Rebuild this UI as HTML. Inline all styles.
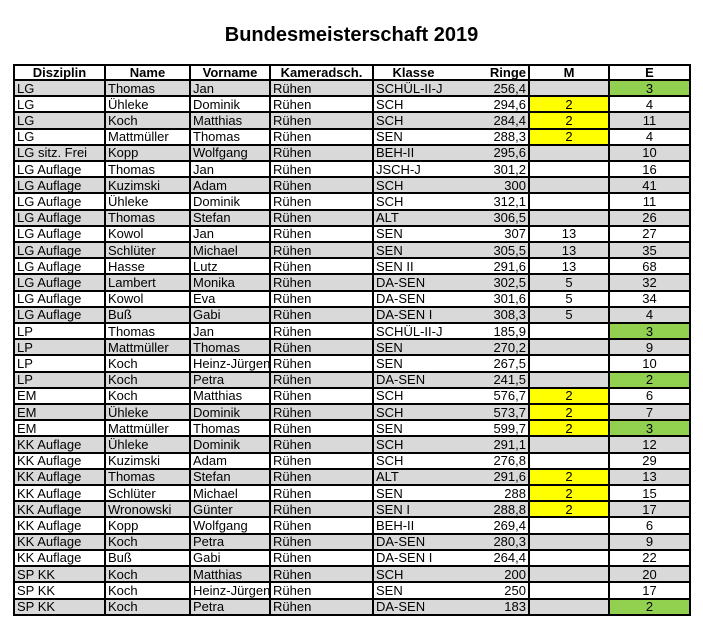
<!DOCTYPE html>
<html><head><meta charset="utf-8">
<style>
body{margin:0;width:703px;height:630px;background:#fff;font-family:"Liberation Sans",sans-serif;position:relative;overflow:hidden}
h1{position:absolute;left:0;width:703px;top:24px;margin:0;text-align:center;font-size:20px;font-weight:bold;color:#000}
table{position:absolute;left:13px;top:64px;width:676px;height:552px;border-collapse:collapse;table-layout:fixed;border:2px solid #000;font-size:13px}
td,th{border:2px solid #000;padding:0 2px;line-height:13px;white-space:nowrap;overflow:hidden;color:#000}
th{font-weight:bold;text-align:center}
tr:nth-child(odd) td{background:#d9d9d9}
td.k{border-right:none}
td.r{border-left:none;text-align:right}
td.c{text-align:center}
td.y{background:#ffff00!important}
td.g{background:#92d050!important}
</style></head><body>
<h1>Bundesmeisterschaft 2019</h1>
<table>
<colgroup><col style="width:91px"><col style="width:85px"><col style="width:80px"><col style="width:103px"><col style="width:80px"><col style="width:76px"><col style="width:80px"><col style="width:81px"></colgroup>
<thead><tr><th>Disziplin</th><th>Name</th><th>Vorname</th><th>Kameradsch.</th><th style="border-right:none">Klasse</th><th style="border-left:none;text-align:right">Ringe</th><th>M</th><th>E</th></tr></thead>
<tbody id="tb"></tbody>
</table>
<script>
const rows=[
["LG","Thomas","Jan","SCHÜL-II-J","256,4","","3","g"],
["LG","Ühleke","Dominik","SCH","294,6","2","4","y"],
["LG","Koch","Matthias","SCH","284,4","2","11","y"],
["LG","Mattmüller","Thomas","SEN","288,3","2","4","y"],
["LG sitz. Frei","Kopp","Wolfgang","BEH-II","295,6","","10",""],
["LG Auflage","Thomas","Jan","JSCH-J","301,2","","16",""],
["LG Auflage","Kuzimski","Adam","SCH","300","","41",""],
["LG Auflage","Ühleke","Dominik","SCH","312,1","","11",""],
["LG Auflage","Thomas","Stefan","ALT","306,5","","26",""],
["LG Auflage","Kowol","Jan","SEN","307","13","27",""],
["LG Auflage","Schlüter","Michael","SEN","305,5","13","35",""],
["LG Auflage","Hasse","Lutz","SEN II","291,6","13","68",""],
["LG Auflage","Lambert","Monika","DA-SEN","302,5","5","32",""],
["LG Auflage","Kowol","Eva","DA-SEN","301,6","5","34",""],
["LG Auflage","Buß","Gabi","DA-SEN I","308,3","5","4",""],
["LP","Thomas","Jan","SCHÜL-II-J","185,9","","3","g"],
["LP","Mattmüller","Thomas","SEN","270,2","","9",""],
["LP","Koch","Heinz-Jürgen","SEN","267,5","","10",""],
["LP","Koch","Petra","DA-SEN","241,5","","2","g"],
["EM","Koch","Matthias","SCH","576,7","2","6","y"],
["EM","Ühleke","Dominik","SCH","573,7","2","7","y"],
["EM","Mattmüller","Thomas","SEN","599,7","2","3","yg"],
["KK Auflage","Ühleke","Dominik","SCH","291,1","","12",""],
["KK Auflage","Kuzimski","Adam","SCH","276,8","","29",""],
["KK Auflage","Thomas","Stefan","ALT","291,6","2","13","y"],
["KK Auflage","Schlüter","Michael","SEN","288","2","15","y"],
["KK Auflage","Wronowski","Günter","SEN I","288,8","2","17","y"],
["KK Auflage","Kopp","Wolfgang","BEH-II","269,4","","6",""],
["KK Auflage","Koch","Petra","DA-SEN","280,3","","9",""],
["KK Auflage","Buß","Gabi","DA-SEN I","264,4","","22",""],
["SP KK","Koch","Matthias","SCH","200","","20",""],
["SP KK","Koch","Heinz-Jürgen","SEN","250","","17",""],
["SP KK","Koch","Petra","DA-SEN","183","","2","g"]
];
const tb=document.getElementById('tb');
rows.forEach(r=>{
 const tr=document.createElement('tr');
 
 
 const hl=r[7];
 let h=`<td>${r[0]}</td><td>${r[1]}</td><td>${r[2]}</td><td>Rühen</td><td class="k">${r[3]}</td><td class="r">${r[4]}</td>`;
 h+=`<td class="c${hl.includes('y')?' y':''}">${r[5]}</td>`;
 h+=`<td class="c${hl.includes('g')?' g':''}">${r[6]}</td>`;
 tr.innerHTML=h;
 tb.appendChild(tr);
});
</script>
</body></html>
